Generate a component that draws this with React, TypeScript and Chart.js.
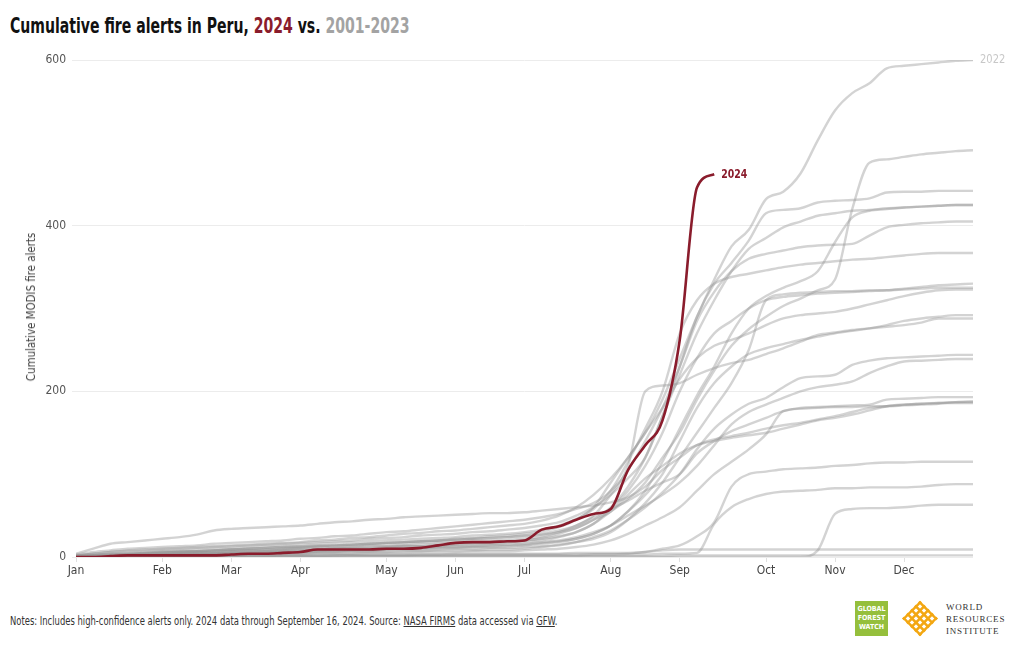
import React, { useEffect, useRef } from "react";
import { Chart, registerables } from "chart.js";

Chart.register(...registerables);

const FONT = "'Liberation Sans Narrow', 'DejaVu Sans Condensed', 'Roboto Condensed', Roboto, sans-serif";
const RED = "#8a1c2c";
const GREY = "rgba(150,150,150,0.42)";

const weeks = [1, 2, 3, 4, 5, 6, 7, 8, 9, 10, 11, 12, 13, 14, 15, 16, 17, 18, 19, 20, 21, 22, 23, 24, 25, 26, 27, 28, 29, 30, 31, 32, 33, 34, 35, 36, 37, 38, 39, 40, 41, 42, 43, 44, 45, 46, 47, 48, 49, 50, 51, 52, 53];
const monthTickWeeks = [1, 6, 10, 14, 19, 23, 27, 32, 36, 41, 45, 49];
const monthLabels = ["Jan", "Feb", "Mar", "Apr", "May", "Jun", "Jul", "Aug", "Sep", "Oct", "Nov", "Dec"];
const yTicks = [0, 200, 400, 600];

const weeks2024 = [1, 2, 3, 4, 5, 6, 7, 8, 9, 10, 11, 12, 13, 14, 15, 16, 17, 18, 19, 20, 21, 22, 23, 24, 25, 26, 27, 28, 29, 30, 31, 32, 33, 34, 35, 36, 37, 38];
const alerts2024 = [0, 0, 1, 2, 2, 2, 2, 2, 2, 3, 4, 4, 5, 6, 9, 9, 9, 9, 10, 10, 11, 14, 17, 18, 18, 19, 20, 33, 37, 45, 52, 58, 105, 135, 165, 262, 446, 462];

const line2022 = [0, 1, 2, 3, 4, 5, 6, 7, 8, 9, 10, 11, 12, 12, 13, 14, 15, 16, 17, 18, 19, 20, 22, 23, 25, 26, 28, 31, 36, 45, 60, 90, 120, 150, 190, 240, 290, 335, 375, 395, 432, 441, 463, 503, 539, 560, 572, 590, 593, 595, 597, 599, 600];
const line491 = [0, 1, 1, 2, 2, 3, 4, 4, 5, 6, 6, 7, 8, 8, 9, 10, 10, 11, 12, 13, 13, 14, 15, 16, 17, 18, 20, 22, 25, 30, 40, 55, 70, 90, 120, 150, 190, 225, 255, 275, 290, 303, 312, 322, 335, 420, 476, 480, 483, 486, 488, 490, 491];
const line442 = [2, 4, 6, 7, 8, 9, 10, 11, 12, 13, 14, 15, 16, 17, 18, 19, 20, 22, 23, 24, 26, 27, 28, 30, 31, 33, 35, 38, 42, 50, 60, 75, 95, 120, 170, 230, 290, 330, 355, 382, 415, 419, 421, 428, 430, 431, 433, 440, 441, 441, 442, 442, 442];
const line425a = [1, 2, 3, 4, 5, 6, 6, 7, 8, 9, 10, 10, 11, 12, 13, 14, 15, 16, 17, 18, 19, 20, 21, 22, 23, 24, 25, 27, 30, 35, 45, 60, 85, 120, 170, 220, 270, 310, 345, 372, 385, 398, 405, 412, 415, 418, 419, 421, 422, 423, 424, 425, 425];
const line425b = [0, 0, 1, 1, 2, 2, 3, 3, 4, 4, 5, 5, 6, 6, 7, 8, 8, 9, 10, 10, 11, 12, 12, 13, 14, 14, 15, 17, 19, 22, 28, 38, 55, 80, 115, 155, 195, 230, 270, 300, 315, 325, 333, 345, 380, 410, 418, 420, 422, 423, 424, 425, 425];
const line405 = [1, 2, 3, 3, 4, 5, 6, 6, 7, 8, 8, 9, 10, 11, 12, 12, 13, 14, 15, 16, 17, 18, 19, 20, 20, 21, 22, 25, 30, 38, 50, 75, 105, 140, 180, 230, 285, 320, 345, 360, 366, 370, 374, 376, 377, 378, 388, 398, 401, 403, 404, 405, 405];
const line367 = [2, 3, 4, 5, 6, 7, 8, 9, 10, 11, 12, 13, 14, 15, 16, 17, 18, 19, 20, 21, 22, 23, 24, 26, 27, 28, 30, 33, 38, 46, 58, 80, 115, 155, 200, 270, 310, 330, 338, 342, 346, 350, 353, 355, 357, 359, 360, 362, 364, 366, 367, 367, 367];
const line330 = [0, 1, 1, 2, 3, 3, 4, 5, 5, 6, 7, 7, 8, 9, 9, 10, 11, 11, 12, 13, 13, 14, 15, 16, 16, 17, 18, 20, 24, 30, 40, 58, 80, 110, 150, 200, 240, 270, 285, 300, 310, 314, 316, 318, 319, 320, 321, 322, 324, 326, 328, 329, 330];
const line325 = [0, 0, 1, 1, 1, 2, 2, 3, 3, 4, 4, 4, 5, 5, 6, 6, 7, 7, 8, 8, 9, 9, 10, 10, 11, 11, 12, 13, 15, 18, 22, 30, 45, 65, 90, 120, 150, 180, 210, 250, 310, 317, 319, 320, 321, 321, 322, 322, 323, 324, 325, 325, 325];
const line323 = [2, 4, 6, 8, 9, 10, 11, 12, 13, 14, 15, 16, 17, 18, 20, 21, 23, 24, 26, 28, 29, 31, 32, 34, 36, 38, 40, 44, 50, 60, 75, 95, 120, 150, 180, 215, 240, 255, 262, 270, 280, 288, 292, 294, 296, 300, 305, 310, 315, 319, 322, 323, 323];
const line292 = [0, 1, 1, 2, 2, 2, 3, 3, 4, 4, 5, 5, 6, 6, 7, 7, 8, 8, 9, 10, 10, 11, 11, 12, 12, 13, 14, 16, 18, 22, 28, 38, 55, 75, 100, 140, 180, 210, 230, 245, 252, 257, 262, 266, 270, 273, 276, 280, 285, 288, 290, 292, 292];
const line288 = [3, 6, 8, 10, 11, 12, 13, 14, 16, 17, 18, 19, 20, 22, 23, 25, 26, 28, 30, 31, 33, 35, 37, 39, 41, 43, 45, 48, 52, 58, 65, 80, 110, 200, 207, 210, 220, 228, 234, 238, 245, 252, 260, 268, 271, 274, 276, 278, 280, 283, 288, 288, 288];
const line244 = [0, 0, 1, 1, 1, 2, 2, 2, 3, 3, 3, 4, 4, 4, 5, 5, 6, 6, 6, 7, 7, 8, 8, 8, 9, 9, 10, 12, 14, 18, 24, 32, 45, 60, 78, 100, 130, 155, 172, 185, 192, 205, 216, 218, 220, 232, 237, 240, 241, 242, 243, 244, 244];
const line239 = [0, 1, 1, 2, 2, 3, 3, 4, 4, 5, 5, 6, 6, 7, 8, 8, 9, 9, 10, 11, 11, 12, 13, 13, 14, 15, 16, 18, 20, 24, 30, 38, 50, 62, 75, 90, 110, 135, 160, 175, 184, 192, 200, 205, 208, 212, 222, 230, 236, 237, 238, 239, 239];
const line193 = [1, 2, 3, 4, 5, 6, 7, 7, 8, 9, 10, 11, 12, 13, 14, 14, 15, 16, 17, 18, 19, 20, 21, 22, 23, 24, 26, 28, 32, 38, 48, 58, 68, 80, 90, 100, 125, 140, 152, 160, 168, 176, 180, 181, 182, 183, 184, 190, 191, 192, 193, 193, 193];
const line188 = [0, 0, 0, 1, 1, 1, 1, 2, 2, 2, 3, 3, 3, 3, 4, 4, 4, 5, 5, 5, 6, 6, 6, 7, 7, 7, 8, 9, 10, 12, 15, 20, 28, 38, 48, 60, 80, 100, 115, 130, 148, 176, 179, 180, 181, 181, 182, 182, 183, 184, 185, 187, 188];
const line187 = [4, 10, 16, 18, 20, 22, 24, 27, 32, 34, 35, 36, 37, 38, 40, 42, 43, 45, 46, 48, 49, 50, 51, 52, 53, 53, 54, 56, 58, 60, 62, 66, 72, 85, 105, 120, 135, 142, 146, 150, 155, 159, 162, 166, 170, 175, 180, 182, 184, 185, 186, 187, 187];
const line186 = [1, 2, 2, 3, 4, 4, 5, 6, 6, 7, 8, 8, 9, 10, 10, 11, 12, 13, 13, 14, 15, 16, 17, 17, 18, 19, 20, 23, 28, 35, 45, 55, 75, 95, 110, 125, 135, 140, 144, 147, 150, 155, 160, 165, 168, 172, 177, 182, 184, 185, 186, 186, 186];
const line115 = [0, 0, 0, 0, 1, 1, 1, 1, 1, 1, 2, 2, 2, 2, 2, 2, 3, 3, 3, 3, 3, 3, 4, 4, 4, 4, 4, 4, 4, 5, 5, 5, 5, 6, 10, 14, 25, 42, 85, 100, 103, 106, 107, 108, 110, 111, 113, 114, 114, 115, 115, 115, 115];
const line88 = [0, 0, 0, 0, 0, 1, 1, 1, 1, 1, 1, 1, 2, 2, 2, 2, 2, 2, 2, 2, 3, 3, 3, 3, 3, 3, 3, 3, 3, 3, 3, 3, 3, 3, 4, 4, 5, 40, 60, 70, 76, 79, 80, 81, 83, 83, 84, 84, 84, 85, 87, 88, 88];
const line63 = [0, 0, 0, 0, 0, 0, 0, 0, 0, 0, 0, 0, 0, 0, 0, 0, 0, 0, 0, 0, 0, 0, 0, 0, 0, 0, 0, 0, 0, 0, 0, 0, 0, 0, 0, 0, 0, 0, 0, 0, 0, 0, 0, 8, 52, 58, 59, 59, 60, 62, 63, 63, 63];
const line9 = [0, 0, 0, 0, 0, 0, 1, 1, 1, 1, 1, 1, 1, 1, 1, 2, 2, 2, 2, 2, 2, 2, 2, 2, 2, 2, 2, 2, 2, 2, 3, 3, 4, 6, 8, 9, 9, 9, 9, 9, 9, 9, 9, 9, 9, 9, 9, 9, 9, 9, 9, 9, 9];
const line2 = [0, 0, 0, 0, 0, 0, 0, 0, 0, 0, 0, 0, 0, 0, 0, 0, 1, 1, 1, 1, 1, 1, 1, 1, 1, 1, 1, 1, 1, 1, 1, 1, 1, 1, 1, 2, 2, 2, 2, 2, 2, 2, 2, 2, 2, 2, 2, 2, 2, 2, 2, 2, 2];

const greyLines = [line2022, line491, line442, line425a, line425b, line405, line367, line330, line325, line323, line292, line288, line244, line239, line193, line188, line187, line186, line115, line88, line63, line9, line2];

function drawNarrow(ctx: any, text: string, x: number, y: number, sx: number) {
  ctx.save();
  ctx.translate(x, y);
  ctx.scale(sx, 1);
  ctx.fillText(text, 0, 0);
  ctx.restore();
}

const endLabels = {
  id: "endLabels",
  afterDatasetsDraw(chart: any) {
    const ctx = chart.ctx;
    const xs = chart.scales.x;
    const ys = chart.scales.y;
    ctx.save();
    ctx.textAlign = "left";
    ctx.textBaseline = "middle";
    ctx.font = `bold 13px ${FONT}`;
    ctx.fillStyle = RED;
    const lw = weeks2024[weeks2024.length - 1];
    const lv = alerts2024[alerts2024.length - 1];
    drawNarrow(ctx, "2024", xs.getPixelForValue(lw) + 7, ys.getPixelForValue(lv), 0.8);
    ctx.font = `13px ${FONT}`;
    ctx.fillStyle = "#c8c8c8";
    drawNarrow(ctx, "2022", xs.getPixelForValue(weeks[weeks.length - 1]) + 7, ys.getPixelForValue(line2022[line2022.length - 1]), 0.85);
    ctx.restore();
  },
};

function WriLogo() {
  const offs = [-24, -16, -8, 0, 8, 16, 24];
  return (
    <svg width="36" height="37" viewBox="0 0 36 36" style={{ position: "absolute", left: 902, top: 600 }}>
      <defs>
        <clipPath id="wriclip">
          <polygon points="18,0 36,18 18,36 0,18" />
        </clipPath>
      </defs>
      <g clipPath="url(#wriclip)" stroke="#f3a712" strokeWidth="2.6" fill="none">
        {offs.map((o) => (
          <line key={"a" + o} x1={o - 10} y1={-10} x2={o + 46} y2={46} />
        ))}
        {offs.map((o) => (
          <line key={"b" + o} x1={o + 46} y1={-10} x2={o - 10} y2={46} />
        ))}
      </g>
    </svg>
  );
}

export default function App() {
  const ref = useRef<HTMLCanvasElement>(null);
  useEffect(() => {
    document.body.style.margin = "0";
    const canvas = ref.current!;
    const datasets: any[] = [
      {
        data: weeks2024.map((w, i) => ({ x: w, y: alerts2024[i] })),
        borderColor: RED,
        borderWidth: 2.6,
        pointRadius: 0,
        cubicInterpolationMode: "monotone",
        fill: false,
      },
      ...greyLines.map((s) => ({
        data: weeks.map((w, i) => ({ x: w, y: s[i] })),
        borderColor: GREY,
        borderWidth: 2.4,
        pointRadius: 0,
        cubicInterpolationMode: "monotone",
        fill: false,
      })),
    ];
    const chart = new Chart(canvas, {
      type: "line",
      data: { datasets },
      options: {
        animation: false,
        responsive: false,
        maintainAspectRatio: false,
        layout: { padding: { top: 60, right: 47, bottom: 13, left: 0 } },
        plugins: { legend: { display: false }, tooltip: { enabled: false } },
        scales: {
          x: {
            type: "linear",
            min: 1,
            max: 53,
            afterFit: (s: any) => {
              s.height = 30;
            },
            afterBuildTicks: (axis: any) => {
              axis.ticks = monthTickWeeks.map((v) => ({ value: v }));
            },
            ticks: {
              callback: (v: any) => monthLabels[monthTickWeeks.indexOf(v)],
              color: "#444",
              font: { size: 12, family: FONT },
              maxRotation: 0,
              autoSkip: false,
              padding: 2,
            },
            grid: { drawOnChartArea: false, drawTicks: true, tickLength: 5, color: "#e0e0e0" },
            border: { display: false },
          },
          y: {
            min: 0,
            max: 600,
            afterFit: (s: any) => {
              s.width = 76;
            },
            afterBuildTicks: (axis: any) => {
              axis.ticks = yTicks.map((v) => ({ value: v }));
            },
            ticks: { color: "#555", font: { size: 12, family: FONT }, padding: 6 },
            grid: { color: "#ececec", tickLength: 4, drawTicks: true },
            border: { display: false },
          },
        },
      } as any,
      plugins: [endLabels],
    });
    return () => chart.destroy();
  }, []);

  return (
    <div style={{ position: "relative", width: 1020, height: 650, background: "#fff", overflow: "hidden", fontFamily: FONT }}>
      <div style={{ position: "absolute", left: 10, top: 14, fontSize: 21, fontWeight: "bold", color: "#111", whiteSpace: "nowrap", transform: "scaleX(0.744)", transformOrigin: "0 0" }}>
        Cumulative fire alerts in Peru, <span style={{ color: RED }}>2024</span> vs. <span style={{ color: "#a3a3a3" }}>2001-2023</span>
      </div>
      <canvas ref={ref} width={1020} height={600} style={{ position: "absolute", left: 0, top: 0, width: 1020, height: 600 }} />
      <div style={{ position: "absolute", left: 31, top: 307, transform: "translate(-50%, -50%) rotate(-90deg) scaleX(0.95)", fontSize: 12, color: "#444", whiteSpace: "nowrap" }}>
        Cumulative MODIS fire alerts
      </div>
      <div style={{ position: "absolute", left: 10, top: 614, fontSize: 12, color: "#333", whiteSpace: "nowrap", transform: "scaleX(0.779)", transformOrigin: "0 0" }}>
        Notes: Includes high-confidence alerts only. 2024 data through September 16, 2024. Source: <span style={{ textDecoration: "underline" }}>NASA FIRMS</span> data accessed via <span style={{ textDecoration: "underline" }}>GFW</span>.
      </div>
      <div style={{ position: "absolute", left: 855, top: 601, width: 33, height: 35, background: "#95bf3c", color: "#fff", fontSize: 7, fontWeight: "bold", lineHeight: "9px", textAlign: "center", display: "flex", flexDirection: "column", justifyContent: "center" }}>
        <div>GLOBAL</div>
        <div>FOREST</div>
        <div>WATCH</div>
      </div>
      <WriLogo />
      <div style={{ position: "absolute", left: 946, top: 601, fontFamily: "'Liberation Serif', 'DejaVu Serif', serif", fontSize: 9, letterSpacing: 0.8, lineHeight: "12px", color: "#333" }}>
        <div>WORLD</div>
        <div>RESOURCES</div>
        <div>INSTITUTE</div>
      </div>
    </div>
  );
}
